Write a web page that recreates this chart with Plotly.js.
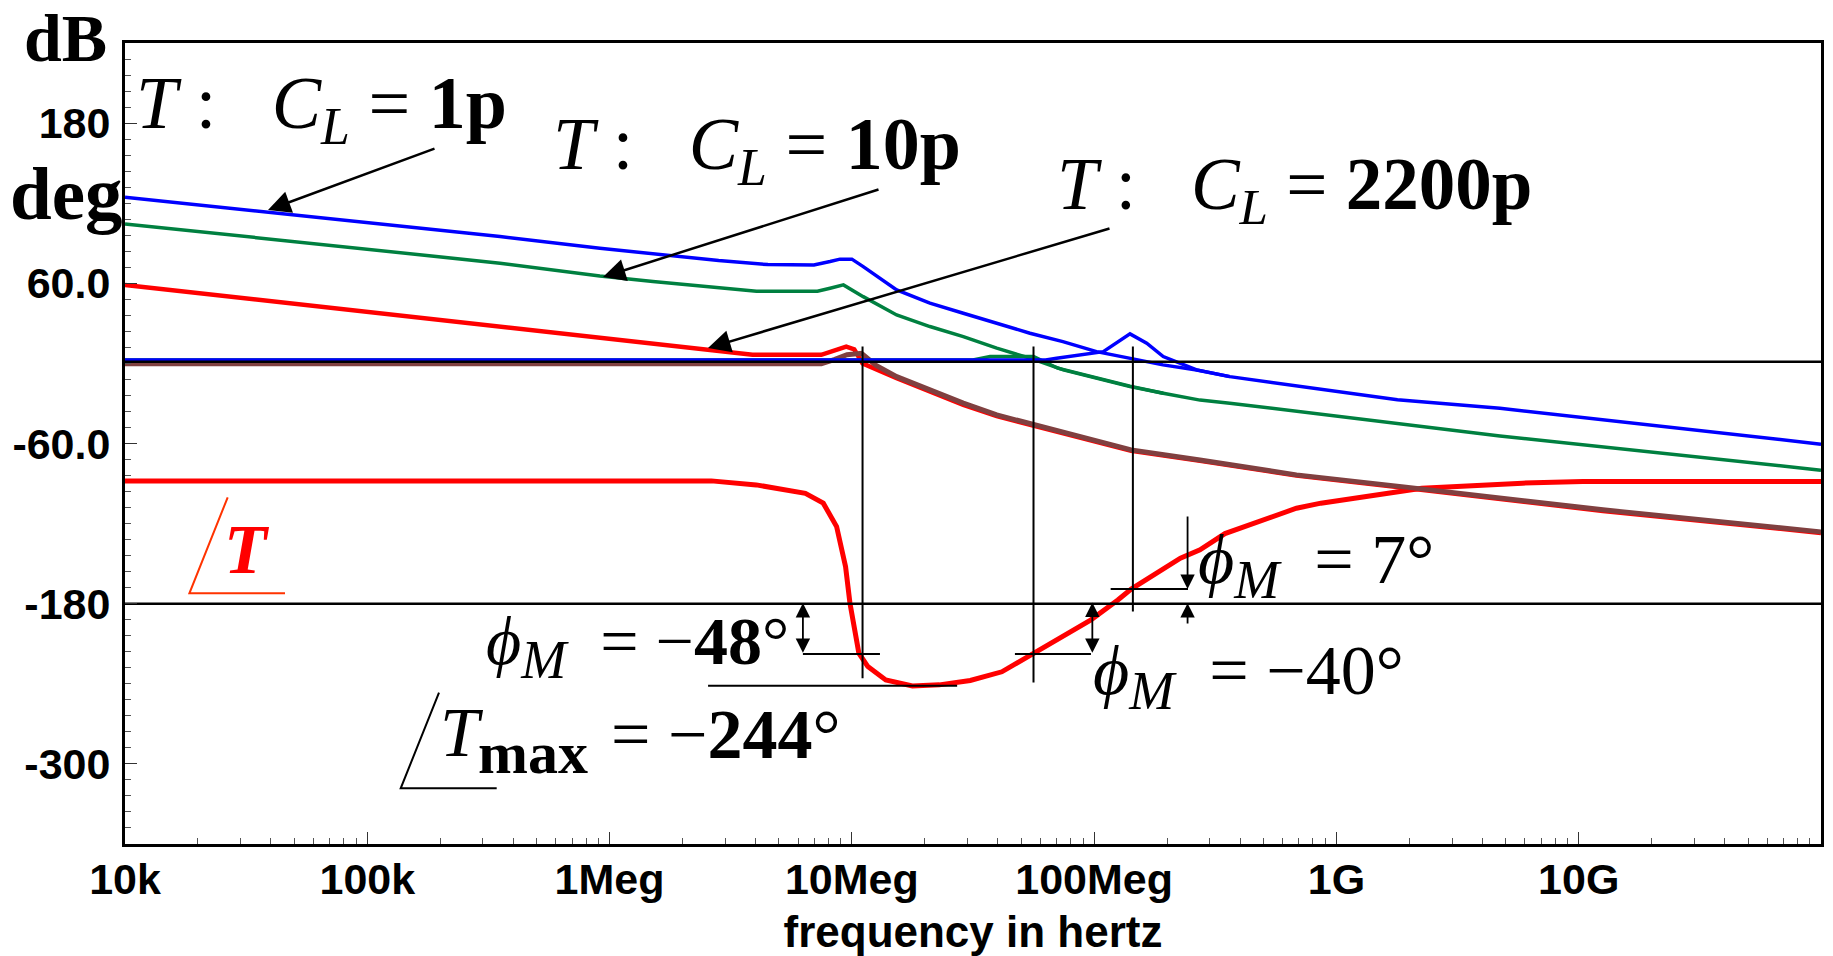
<!DOCTYPE html>
<html><head><meta charset="utf-8">
<script src="https://cdn.plot.ly/plotly-3.0.1.min.js"></script>
<style>html,body{margin:0;padding:0;background:#fff}</style>
</head><body><div id="chart" style="width:1833px;height:956px"></div>
<script>
// ---------- data (frequency in Hz, value in dB or deg) ----------
const fBlueT = [1e4, 3.53e5, 9.12e5, 1.51e6, 2.82e6, 4.5e6, 6.97e6, 8.13e6, 8.93e6, 1e7, 1.114e7, 1.531e7, 2.099e7, 2.884e7, 3.963e7, 5.433e7, 7.43e7, 1.023e8, 1.923e8, 2.649e8, 3.631e8, 1.786e9, 4.73e9, 9.77e10, 1e11];
const vBlueT = [124.5, 95.0, 86.3, 82.0, 77.0, 74.0, 73.8, 76.3, 78.1, 78.1, 72.5, 55.1, 45.1, 37.6, 30.1, 22.6, 16.3, 8.8, -1.1, -4.9, -9.9, -27.3, -33.6, -60.3, -60.5];

const fBlueCL = [1e4, 6.31e7, 7.0e7, 8.73e7, 1.091e8, 1.406e8, 1.648e8, 1.928e8, 2.259e8, 2.649e8, 3.631e8];
const vBlueCL = [2.6, 2.6, 3.9, 6.4, 8.8, 22.1, 15.1, 5.1, 0.1, -4.9, -9.9];

const fGreenT = [1e4, 3.53e5, 9.12e5, 1.51e6, 4.04e6, 7.21e6, 8.13e6, 9.23e6, 1.114e7, 1.531e7, 2.099e7, 2.884e7, 3.963e7, 5.433e7, 7.46e7, 1.023e8, 1.406e8, 1.928e8, 2.735e8, 3.631e8, 4.73e9, 9.77e10, 1e11];
const vGreenT = [104.5, 75.1, 65.5, 61.3, 54.0, 54.0, 56.3, 58.8, 50.0, 36.3, 27.6, 20.1, 11.4, 3.9, -4.9, -11.1, -17.4, -22.3, -27.5, -29.8, -54.3, -79.8, -80.0];

const fGreenCL = [1e4, 3.16e7, 3.72e7, 5.62e7, 7.08e7, 1.023e8, 1.406e8, 1.928e8];
const vGreenCL = [2.5, 2.5, 5.1, 5.1, -3.6, -10.6, -17.0, -22.3];

const fRedT = [1e4, 3.53e5, 3.126e6, 3.89e6, 7.48e6, 8.51e6, 9.48e6, 1.023e7, 1.107e7, 1.531e7, 2.099e7, 2.884e7, 3.963e7, 5.58e7, 1.422e8, 2.735e8, 6.84e8, 1.858e9, 1.259e10, 9.77e10, 1e11];
const vRedT = [58.8, 27.6, 8.8, 6.4, 6.4, 9.5, 12.6, 10.5, 0.0, -11.0, -21.0, -31.0, -39.5, -46.5, -65.5, -73.0, -84.0, -93.0, -110.5, -126.8, -127.0];

const fBrownCL = [1e4, 7.48e6, 8.51e6, 9.55e6, 1.096e7, 1.259e7, 1.531e7, 2.099e7, 2.884e7, 3.963e7, 5.51e7, 1.422e8, 2.735e8, 6.84e8, 1.858e9, 1.259e10, 9.77e10, 1e11];
const vBrownCL = [-0.3, -0.3, 3.0, 6.5, 7.6, -1.5, -9.9, -19.9, -29.8, -38.6, -45.4, -64.8, -72.3, -83.5, -92.3, -109.7, -126.0, -126.3];

const fRedPhase = [1e4, 2.63e6, 4.03e6, 6.43e6, 7.62e6, 8.65e6, 9.42e6, 9.82e6, 1.069e7, 1.164e7, 1.38e7, 1.778e7, 2.296e7, 3.08e7, 4.16e7, 5.58e7, 9.7e7, 1.253e8, 1.422e8, 2.27e8, 2.735e8, 3.467e8, 4.0e8, 6.84e8, 8.63e8, 2.25e9, 5.86e9, 1.04e10, 1e11];
const vRedPhase = [-88, -88, -91, -97.3, -104.7, -122.2, -152.2, -179.6, -217.1, -227.1, -237.1, -241.6, -240.8, -237.5, -231.0, -217.6, -192.1, -177.2, -169.1, -145.9, -139.7, -127.5, -123.5, -108.5, -104.7, -93.5, -89.7, -88.5, -88.5];

// reference lines and phase-margin markers
const fSpan = [1e4, 1e11];
const refLevels = [1.3, -180];
const fCross = [1.107e7, 5.62e7, 1.445e8];
const crossTop = [12.6, 12.6, 12.6];
const crossBottom = [-235.8, -239.1, -185.9];
const pmLineF0 = [6.28e6, 4.71e7, 1.17e8];
const pmLineF1 = [1.306e7, 9.7e7, 2.44e8];
const pmLineV = [-217.6, -217.6, -168.9];
const tmaxF = [2.55e6, 2.72e7];
const tmaxV = -241.4;
const pmArrowF = [6.28e6, 9.83e7];
const pmArrowTop = [-178.4, -178.0];
const pmArrowBottom = [-216.8, -216.8];
const pm7F = 2.43e8;
const pm7Down = [-113.5, -168.9];
const pm7Up = [-195.9, -179.6];

// axis labels
const xTickVals = [1e4, 1e5, 1e6, 1e7, 1e8, 1e9, 1e10];
const xTickText = ['10k', '100k', '1Meg', '10Meg', '100Meg', '1G', '10G'];
const yTickVals = [-300, -180, -60, 60, 180];
const yTickText = ['-300', '-180', '-60.0', '60.0', '180'];

// ---------- build ----------
const BLUE = '#0000FF', GREEN = '#008040', RED = '#FF0000', BROWN = '#804040';
function line(x, y, color, width) {
  return {type: 'scatter', mode: 'lines', x: x, y: y, line: {color: color, width: width}, hoverinfo: 'skip', showlegend: false};
}
const traces = [
  line(fRedPhase, vRedPhase, RED, 5),
  line(fRedT, vRedT, RED, 4.5),
  line(fBrownCL, vBrownCL, BROWN, 5),
  line(fGreenT, vGreenT, GREEN, 3.5),
  line(fGreenCL, vGreenCL, GREEN, 3.5),
  line(fBlueT, vBlueT, BLUE, 3.5),
  line(fBlueCL, vBlueCL, BLUE, 3.5)
];
let hx = [], hy = [];
refLevels.forEach(v => { hx.push(fSpan[0], fSpan[1], null); hy.push(v, v, null); });
traces.push(line(hx, hy, '#000', 2.5));
let vx = [], vy = [];
fCross.forEach((f, i) => { vx.push(f, f, null); vy.push(crossTop[i], crossBottom[i], null); });
pmLineF0.forEach((f, i) => { vx.push(f, pmLineF1[i], null); vy.push(pmLineV[i], pmLineV[i], null); });
vx.push(tmaxF[0], tmaxF[1], null); vy.push(tmaxV, tmaxV, null);
traces.push(line(vx, vy, '#000', 2));

// pixel helpers for text placement
const PL = 125, PT = 43, PW = 1696, PH = 801;
const px = x => (x - PL) / PW;
const py = y => (PT + PH - y) / PH;
const SERIF = 'Liberation Serif, DejaVu Serif, serif';
function txt(text, left, cy, size, color) {
  return {xref: 'paper', yref: 'paper', x: px(left), y: py(cy), xanchor: 'left', yanchor: 'middle',
    text: text, showarrow: false, font: {family: SERIF, size: size, color: color || '#000'}};
}
const NB = '\u00a0';
const subM = '<sub><span style="font-size:54px"><i>M</i></span></sub>';
const clLabel = v => '<i>T</i>' + NB + ':' + NB + NB + NB + '<i>C</i><sub><i>L</i></sub>' + NB + '=' + NB + '<b>' + v + '</b>';
const ann = [
  txt('<b>dB</b>', 22, 38, 68),
  txt('<b>deg</b>', 8, 193, 75),
  txt(clLabel('1p'), 134, 109, 74),
  txt(clLabel('10p'), 551, 149, 74),
  txt(clLabel('2200p'), 1055, 189, 73),
  txt('<b><i>T</i></b>', 222, 549, 70, RED),
  txt('<i>T</i>', 438, 732, 70),
  txt('<b>max</b>', 476, 753, 60),
  txt('=' + NB + '\u2212<b>244</b>°', 609, 734, 70),
  txt('<i>\u03d5</i>' + subM + NB + NB + '=' + NB + '\u2212<b>48</b>°', 484, 646, 68),
  txt('<i>\u03d5</i>' + subM + NB + NB + '=' + NB + '\u2212' + '40°', 1091, 676, 70),
  txt('<i>\u03d5</i>' + subM + NB + NB + '=' + NB + '7°', 1196, 565, 70)
];
function pointer(hx_, hy_, tx, ty) {
  return {xref: 'paper', yref: 'paper', x: px(hx_), y: py(hy_), ax: tx - hx_, ay: ty - hy_, text: '', showarrow: true,
    arrowhead: 2, arrowsize: 1.8, arrowwidth: 2.5, arrowcolor: '#000', standoff: 0};
}
ann.push(pointer(268, 210, 436, 148));
ann.push(pointer(603, 277, 880, 189));
ann.push(pointer(708, 348, 1111, 228));
function dArrow(f, yHead, yTail, both) {
  const lx = Math.log10(f);
  return {xref: 'x', yref: 'y', axref: 'x', ayref: 'y', x: lx, y: yHead, ax: lx, ay: yTail, text: '', showarrow: true,
    arrowhead: 2, arrowsize: 1.6, arrowwidth: 1.8, arrowcolor: '#000', arrowside: both ? 'end+start' : 'end', standoff: 0, startstandoff: 0};
}
pmArrowF.forEach((f, i) => ann.push(dArrow(f, pmArrowBottom[i], pmArrowTop[i], true)));
ann.push(dArrow(pm7F, pm7Down[1], pm7Down[0], false));
ann.push(dArrow(pm7F, pm7Up[1], pm7Up[0], false));

const shapes = [
  {type: 'path', xref: 'paper', yref: 'paper', path: `M ${px(227.7)} ${py(497.3)} L ${px(189.4)} ${py(593.3)} L ${px(285)} ${py(593.3)}`, line: {color: '#FF3300', width: 2}},
  {type: 'path', xref: 'paper', yref: 'paper', path: `M ${px(439)} ${py(692.7)} L ${px(400.7)} ${py(788.3)} L ${px(496.7)} ${py(788.3)}`, line: {color: '#000', width: 2}}
];

const SANS = 'Liberation Sans, Arial, sans-serif';
const tickFont = {family: SANS, size: 43, color: '#000', weight: 'bold'};
const layout = {
  width: 1833, height: 956,
  margin: {l: 125, r: 12, t: 43, b: 112, pad: 0},
  paper_bgcolor: '#fff', plot_bgcolor: '#fff',
  showlegend: false,
  xaxis: {
    type: 'log', range: [4, 11], autorange: false,
    tickmode: 'array', tickvals: xTickVals, ticktext: xTickText,
    ticks: 'inside', ticklen: 12, tickwidth: 1, tickcolor: '#333',
    minor: {ticks: 'inside', ticklen: 6, tickwidth: 1, tickcolor: '#555', dtick: 'D1'},
    showline: true, linewidth: 3, linecolor: '#000', mirror: true,
    showgrid: false, zeroline: false,
    tickfont: tickFont, ticklabelstandoff: -5,
    title: {text: 'frequency in hertz', font: {family: SANS, size: 44, color: '#000', weight: 'bold'}, standoff: 17},
    automargin: false
  },
  yaxis: {
    range: [-360, 240], autorange: false,
    tickmode: 'array', tickvals: yTickVals, ticktext: yTickText,
    ticks: 'inside', ticklen: 12, tickwidth: 1, tickcolor: '#333',
    minor: {ticks: 'inside', ticklen: 6, tickwidth: 1, tickcolor: '#555', dtick: 12, tick0: 0},
    showline: true, linewidth: 3, linecolor: '#000', mirror: true,
    showgrid: false, zeroline: false,
    tickfont: tickFont, ticklabelstandoff: 3,
    automargin: false
  },
  annotations: ann,
  shapes: shapes
};
Plotly.newPlot('chart', traces, layout, {staticPlot: true, displayModeBar: false});
</script></body></html>
